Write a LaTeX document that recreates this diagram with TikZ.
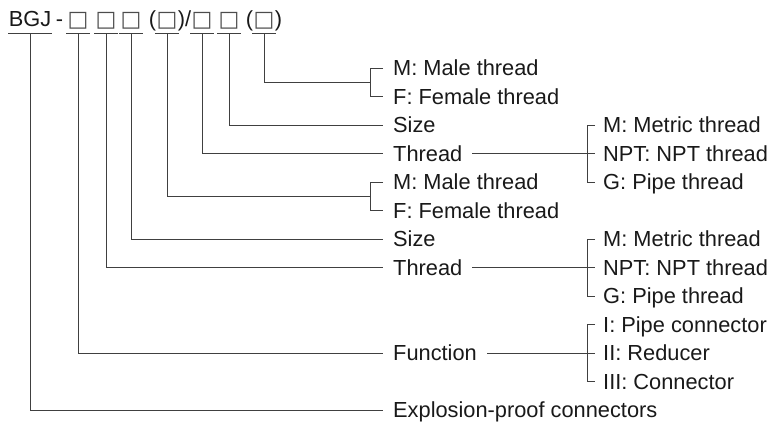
\documentclass[tikz,border=0pt]{standalone}
\usepackage{fontspec}
\setmainfont{Liberation Sans}
\newfontfamily\boxfont{DejaVu Sans}
\usetikzlibrary{calc}
\tikzset{
  wire/.style={draw=black!75, line width=0.75pt},
  lbl/.style={anchor=west, inner xsep=10pt, inner ysep=0pt, text height=15.6pt,
    text depth=0pt, text=black!90, font=\fontsize{21.8}{24}\selectfont},
  opt/.style={lbl, inner xsep=8pt},
  hdr/.style={anchor=base, inner xsep=0pt, inner ysep=0pt, text height=15.6pt,
    text depth=6.5pt, text=black!90, font=\fontsize{21.8}{24}\selectfont},
  code/.style={hdr, inner xsep=1pt, text=black!70, font=\boxfont\fontsize{22}{24}\selectfont}
}
\begin{document}
\begin{tikzpicture}[x=1pt, y=-1pt]
  \useasboundingbox (0,0) rectangle (780,423);
  % model code
  \node[hdr, inner xsep=0.5pt] (bgj) at (30,27) {BGJ};
  \node[hdr] (dash) at (59.5,27) {-};
  \node[code] (s1) at (78,27) {□};
  \node[code] (s2) at (106,27) {□};
  \node[code] (s3) at (131,27) {□};
  \node[code] (s4) at (167,27) {□};
  \node[code] (s5) at (202,27) {□};
  \node[code] (s6) at (229,27) {□};
  \node[code] (s7) at (264,27) {□};
  \node[hdr, anchor=base east] (po1) at ([xshift=1pt]s4.base west) {(};
  \node[hdr, anchor=base west] (pc1) at ([xshift=-1pt]s4.base east) {)/};
  \node[hdr, anchor=base east] (po2) at ([xshift=1pt]s7.base west) {(};
  \node[hdr, anchor=base west] (pc2) at ([xshift=-1pt]s7.base east) {)};
  % underlines
  \foreach \n in {bgj,s1,s2,s3,s4,s5,s6,s7}
    \draw[wire] (\n.south west) -- (\n.south east);
  % meanings
  \node[lbl] (male1) at (383,68) {M: Male thread};
  \node[lbl] (fem1) at (383,96.5) {F: Female thread};
  \node[lbl] (size1) at (383,125) {Size};
  \node[lbl] (thr1) at (383,153.5) {Thread};
  \node[lbl] (male2) at (383,182) {M: Male thread};
  \node[lbl] (fem2) at (383,210.5) {F: Female thread};
  \node[lbl] (size2) at (383,239) {Size};
  \node[lbl] (thr2) at (383,267.5) {Thread};
  \node[lbl] (func) at (383,353) {Function};
  \node[lbl] (expl) at (383,410) {Explosion-proof connectors};
  % thread and function options
  \node[opt] (met1) at (595,125) {M: Metric thread};
  \node[opt] (npt1) at (595,153.5) {NPT: NPT thread};
  \node[opt] (pipe1) at (595,182) {G: Pipe thread};
  \node[opt] (met2) at (595,239) {M: Metric thread};
  \node[opt] (npt2) at (595,267.5) {NPT: NPT thread};
  \node[opt] (pipe2) at (595,296) {G: Pipe thread};
  \node[opt] (pcon) at (595,324.5) {I: Pipe connector};
  \node[opt] (red) at (595,353) {II: Reducer};
  \node[opt] (conn) at (595,381.5) {III: Connector};
  % male/female brackets
  \draw[wire] (male1.west) -- ++(-13,0) |- (fem1.west);
  \draw[wire] (male2.west) -- ++(-13,0) |- (fem2.west);
  \coordinate (mf1) at ($(male1.west)!0.5!(fem1.west)+(-13,0)$);
  \coordinate (mf2) at ($(male2.west)!0.5!(fem2.west)+(-13,0)$);
  % leads from the code
  \draw[wire] (s7.south) |- (mf1);
  \draw[wire] (s6.south) |- (size1.west);
  \draw[wire] (s5.south) |- (thr1.west);
  \draw[wire] (s4.south) |- (mf2);
  \draw[wire] (s3.south) |- (size2.west);
  \draw[wire] (s2.south) |- (thr2.west);
  \draw[wire] (s1.south) |- (func.west);
  \draw[wire] (bgj.south) |- (expl.west);
  % option brackets
  \draw[wire] (met1.west) -- ++(-8,0) |- (pipe1.west);
  \draw[wire] (met2.west) -- ++(-8,0) |- (pipe2.west);
  \draw[wire] (pcon.west) -- ++(-8,0) |- (conn.west);
  \draw[wire] (thr1.east) -- (npt1.west);
  \draw[wire] (thr2.east) -- (npt2.west);
  \draw[wire] (func.east) -- (red.west);
\end{tikzpicture}
\end{document}
